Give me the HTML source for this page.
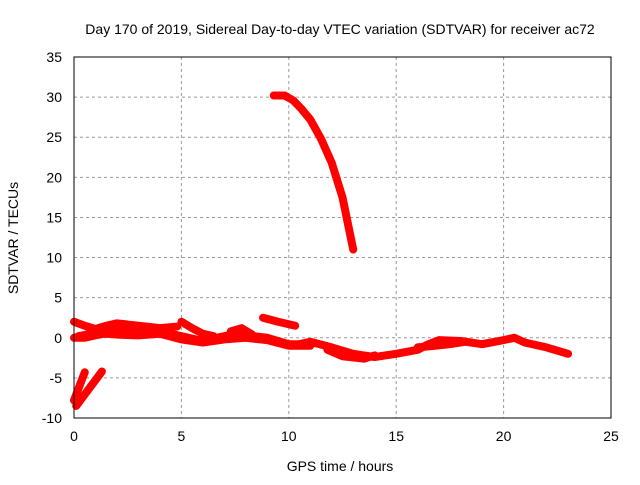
<!DOCTYPE html>
<html><head><meta charset="utf-8"><style>
body{margin:0;background:#fff}
svg text{font-family:"Liberation Sans",sans-serif;font-size:14px;fill:#000}
</style></head><body>
<svg id="chart" width="640" height="480" xmlns="http://www.w3.org/2000/svg">
<text x="340" y="34" text-anchor="middle">Day 170 of 2019, Sidereal Day-to-day VTEC variation (SDTVAR) for receiver ac72</text>
<g id="grid"></g>
<g id="marks"></g>
<rect x="74" y="57" width="537" height="361" fill="none" stroke="#000" stroke-width="1"/>
<g id="ticks"></g>
<text x="340" y="471" text-anchor="middle">GPS time / hours</text>
<text transform="translate(18,238) rotate(-90)" text-anchor="middle">SDTVAR / TECUs</text>
</svg>
<script>
const xTicks=[0,5,10,15,20,25];
const yTicks=[-10,-5,0,5,10,15,20,25,30,35];
const mainBand=[[0,0],[0.5,0],[1,0.3],[2,0.8],[3,0.8],[4,0.8],[5,0.2],[6,-0.4],[7,0.2],[7.5,0.5],[8,0.3],[9,0],[10,-0.8],[10.5,-0.8],[11,-0.5],[12,-1.2],[13,-2],[14,-2.4],[15,-2],[16,-1.5],[16.5,-0.8],[17,-0.3],[18,-0.4],[19,-0.8],[19.8,-0.4],[20.5,0],[21,-0.6],[22,-1.2],[23,-2]];
const mainBand2=[[0.2,0.2],[1,0.6],[2,0.4],[3,0.3],[4,0.5],[5,-0.2],[6,-0.6],[7,-0.2],[8,0],[9,-0.3],[10,-1],[11,-1]];
const lowerLoop=[[11.8,-1.5],[12.5,-2.3],[13.5,-2.6],[14,-2.2]];
const loop2=[[16,-1.2],[16.8,-1],[17.5,-0.8],[18.2,-0.5]];
const upperBand=[[0,2],[0.5,1.5],[1,1.1],[1.5,1.5],[2,1.8],[3,1.5],[4,1.2],[4.8,1.4]];
const piece1=[[5,2],[5.5,1.2],[6,0.5],[6.5,0.2]];
const piece2=[[8.8,2.5],[9.5,2],[10.3,1.5]];
const piece3=[[7.3,0.8],[7.8,1.2],[8.3,0.4]];
const vA=[[0,-7.8],[0.5,-4.3]];
const vB=[[0.1,-8.5],[1.3,-4.2]];
const bigCurve=[[9.3,30.2],[9.8,30.2],[10.2,29.6],[10.6,28.5],[11,27.2],[11.5,24.8],[12,21.8],[12.5,17.5],[13,11]];
const allSeries=[mainBand,mainBand2,lowerLoop,loop2,upperBand,piece1,piece2,piece3,vA,vB,bigCurve];
const X=h=>74+h*537/25;
const Y=v=>418-(v+10)*361/45;
const NS="http://www.w3.org/2000/svg";
const grid=document.getElementById('grid'),ticks=document.getElementById('ticks'),marks=document.getElementById('marks');
function mk(t,a,p){const e=document.createElementNS(NS,t);for(const k in a)e.setAttribute(k,a[k]);p.appendChild(e);return e;}
xTicks.forEach(t=>{
 const l=mk('line',{x1:X(t),x2:X(t),y1:57,y2:418,stroke:'#999','stroke-dasharray':'3,3'},grid);
 
 
 const tx=mk('text',{x:X(t),y:441,'text-anchor':'middle'},ticks);tx.textContent=t;
 
 
});
yTicks.forEach(t=>{
 const l=mk('line',{x1:74,x2:611,y1:Y(t),y2:Y(t),stroke:'#999','stroke-dasharray':'3,3'},grid);
 
 
 const tx=mk('text',{x:62,y:Y(t)+5,'text-anchor':'end'},ticks);tx.textContent=t;
 
 
});
allSeries.forEach(s=>{
 const p=mk('polyline',{points:s.map(d=>X(d[0])+','+Y(d[1])).join(' '),fill:'none',stroke:'#f00','stroke-width':8,'stroke-linejoin':'round','stroke-linecap':'round'},marks);
 
 
});
</script>
</body></html>
